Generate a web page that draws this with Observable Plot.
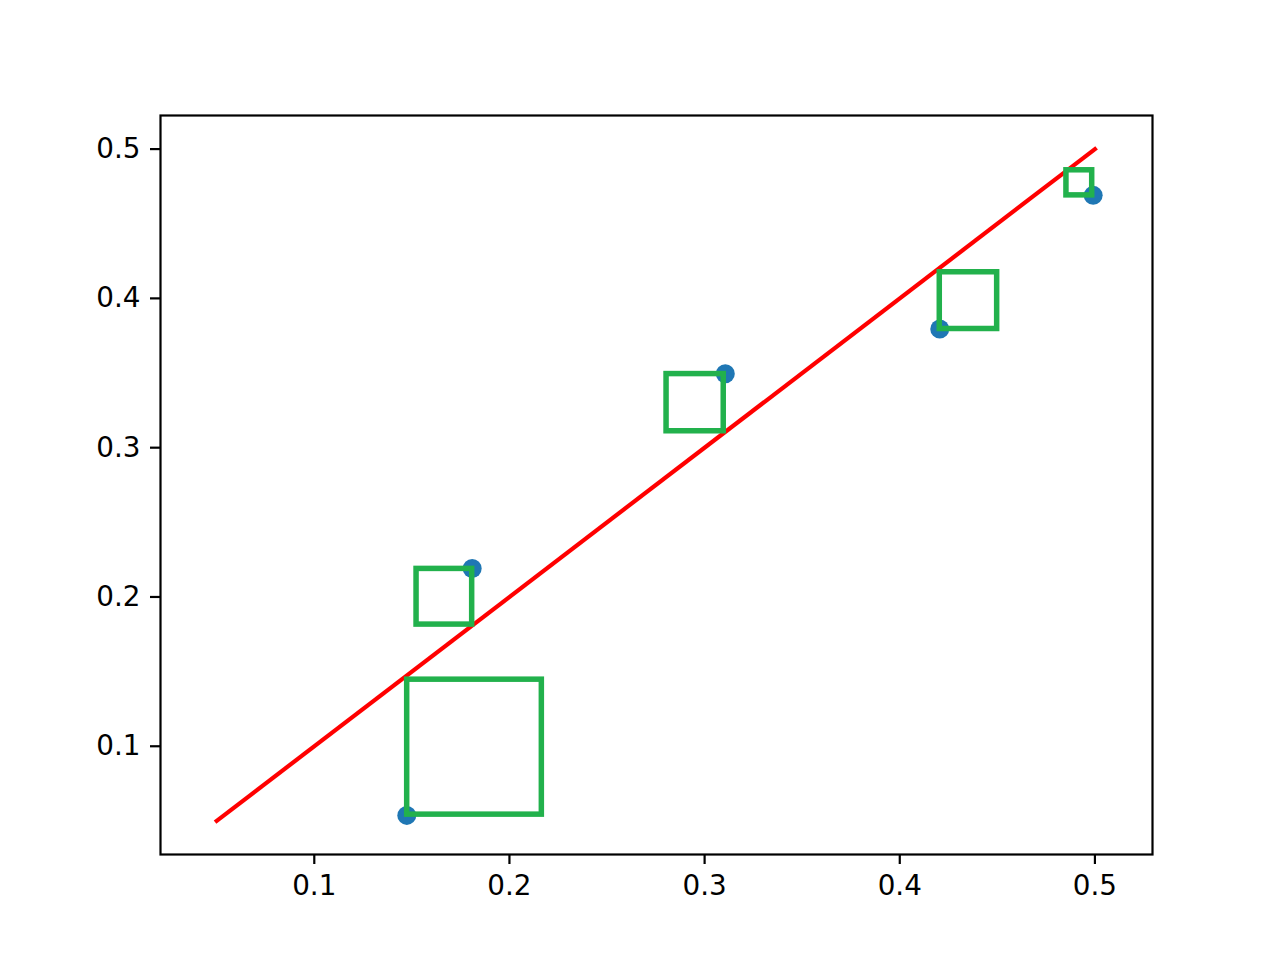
<!DOCTYPE html>
<html>
<head>
<meta charset="utf-8">
<script src="https://cdn.jsdelivr.net/npm/d3@7"></script>
<script src="https://cdn.jsdelivr.net/npm/@observablehq/plot@0.6"></script>
<style>
  html, body { margin: 0; padding: 0; background: #ffffff; }
  #chart { width: 1280px; height: 960px; }
</style>
</head>
<body>
<div id="chart"></div>
<script>
// Scatter points
const pointX = [0.1474, 0.1809, 0.3106, 0.4205, 0.4991];
const pointY = [0.0537, 0.2191, 0.3495, 0.3795, 0.4690];

// Green rectangles (corners)
const rectX1 = [0.1476, 0.1524, 0.2805, 0.4205, 0.4854];
const rectX2 = [0.2166, 0.1809, 0.3098, 0.4499, 0.4986];
const rectY1 = [0.0542, 0.1815, 0.3110, 0.3795, 0.4690];
const rectY2 = [0.1446, 0.2188, 0.3493, 0.4175, 0.4858];

// Red reference line
const lineX = [0.05, 0.5];
const lineY = [0.05, 0.5];

// Tick values
const xTicks = [0.1, 0.2, 0.3, 0.4, 0.5];
const yTicks = [0.1, 0.2, 0.3, 0.4, 0.5];

const points = pointX.map((x, i) => ({x, y: pointY[i]}));
const rects = rectX1.map((x1, i) => ({x1, x2: rectX2[i], y1: rectY1[i], y2: rectY2[i]}));
const line = lineX.map((x, i) => ({x, y: lineY[i]}));

const fmt = d => d.toFixed(1);

const chart = Plot.plot({
  width: 1280,
  height: 960,
  marginLeft: 160,
  marginRight: 128,
  marginTop: 115,
  marginBottom: 106,
  style: {fontFamily: "DejaVu Sans", fontSize: "27.8px", background: "#ffffff", color: "#000000"},
  x: {domain: [0.0212, 0.5295]},
  y: {domain: [0.0275, 0.5225]},
  marks: [
    Plot.line(line, {x: "x", y: "y", stroke: "#ff0000", strokeWidth: 4.2, strokeLinecap: "square"}),
    Plot.dot(points, {x: "x", y: "y", r: 9.5, fill: "#1f77b4", stroke: "none"}),
    Plot.rect(rects, {x1: "x1", x2: "x2", y1: "y1", y2: "y2", fill: "none", stroke: "#22b14c", strokeWidth: 5.5}),
    Plot.frame({stroke: "#000000", strokeWidth: 2.2}),
    Plot.axisX({ticks: xTicks, tickFormat: fmt, tickSize: 10, tickPadding: 11, strokeWidth: 2.2, label: null, fontSize: 27.8}),
    Plot.axisY({ticks: yTicks, tickFormat: fmt, tickSize: 10, tickPadding: 10, strokeWidth: 2.2, label: null, fontSize: 27.8})
  ]
});
document.getElementById("chart").appendChild(chart);
</script>
</body>
</html>
